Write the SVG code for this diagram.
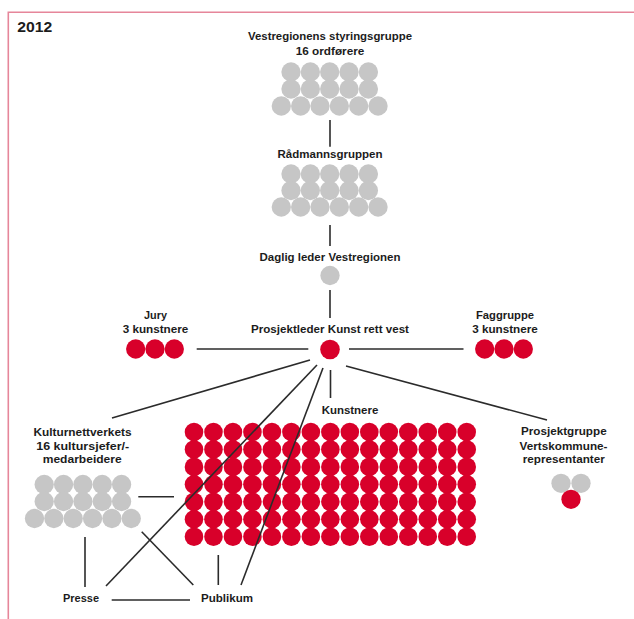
<svg xmlns="http://www.w3.org/2000/svg" xmlns:xlink="http://www.w3.org/1999/xlink" width="634" height="619" viewBox="0 0 634 619">
<style>
.t{font-family:"Liberation Sans",Arial,sans-serif;font-weight:bold;font-size:11.5px;fill:#1c1c1c;text-anchor:middle}
.g{fill:#c6c6c6}
.r{fill:#d8002a}
.c{stroke:#2b2b2b;stroke-width:1.6;fill:none}
</style>
<defs>
<g id="grow5" class="g"><circle cx="0" cy="0" r="9.65"/><circle cx="19.35" cy="0" r="9.65"/><circle cx="38.7" cy="0" r="9.65"/><circle cx="58.05" cy="0" r="9.65"/><circle cx="77.4" cy="0" r="9.65"/></g>
<g id="grow6" class="g"><circle cx="0" cy="0" r="9.65"/><circle cx="19.35" cy="0" r="9.65"/><circle cx="38.7" cy="0" r="9.65"/><circle cx="58.05" cy="0" r="9.65"/><circle cx="77.4" cy="0" r="9.65"/><circle cx="96.75" cy="0" r="9.65"/></g>
<g id="rrow15" class="r"><circle cx="0" cy="0" r="9.3"/><circle cx="19.48" cy="0" r="9.3"/><circle cx="38.96" cy="0" r="9.3"/><circle cx="58.44" cy="0" r="9.3"/><circle cx="77.92" cy="0" r="9.3"/><circle cx="97.4" cy="0" r="9.3"/><circle cx="116.88" cy="0" r="9.3"/><circle cx="136.36" cy="0" r="9.3"/><circle cx="155.84" cy="0" r="9.3"/><circle cx="175.32" cy="0" r="9.3"/><circle cx="194.8" cy="0" r="9.3"/><circle cx="214.28" cy="0" r="9.3"/><circle cx="233.76" cy="0" r="9.3"/><circle cx="253.24" cy="0" r="9.3"/><circle cx="272.72" cy="0" r="9.3"/></g>
<g id="rrow3" class="r"><circle cx="0" cy="0" r="9.65"/><circle cx="19.3" cy="0" r="9.65"/><circle cx="38.6" cy="0" r="9.65"/></g>
</defs>
<rect width="634" height="619" fill="#ffffff"/>
<path d="M8.3,619 V12.3 H634" fill="none" stroke="#e6869a" stroke-width="1.6"/>
<text x="17.3" y="31.5" font-family="Liberation Sans, Arial, sans-serif" font-weight="bold" font-size="15" fill="#1c1c1c" textLength="35" lengthAdjust="spacingAndGlyphs">2012</text>

<g id="styringsgruppe">
<text class="t" x="330" y="40" textLength="164" lengthAdjust="spacingAndGlyphs">Vestregionens styringsgruppe</text>
<text class="t" x="330" y="55" textLength="68.6" lengthAdjust="spacingAndGlyphs">16 ordførere</text>
<use xlink:href="#grow5" href="#grow5" x="291" y="72"/>
<use xlink:href="#grow5" href="#grow5" x="291" y="89"/>
<use xlink:href="#grow6" href="#grow6" x="281.3" y="106"/>
</g>

<g id="raadmannsgruppen">
<text class="t" x="330" y="157.5" textLength="105" lengthAdjust="spacingAndGlyphs">Rådmannsgruppen</text>
<use xlink:href="#grow5" href="#grow5" x="291" y="174"/>
<use xlink:href="#grow5" href="#grow5" x="291" y="190.5"/>
<use xlink:href="#grow6" href="#grow6" x="281.3" y="207"/>
</g>

<g id="dagligleder">
<text class="t" x="330" y="261" textLength="141" lengthAdjust="spacingAndGlyphs">Daglig leder Vestregionen</text>
<circle class="g" cx="330" cy="275.5" r="9.65"/>
</g>

<g id="prosjektleder">
<text class="t" x="330" y="333" textLength="158" lengthAdjust="spacingAndGlyphs">Prosjektleder Kunst rett vest</text>
<circle class="r" cx="330" cy="349.5" r="9.8"/>
</g>

<g id="jury">
<text class="t" x="155.5" y="318.5" textLength="23" lengthAdjust="spacingAndGlyphs">Jury</text>
<text class="t" x="155.5" y="333" textLength="65.7" lengthAdjust="spacingAndGlyphs">3 kunstnere</text>
<use xlink:href="#rrow3" href="#rrow3" x="135.7" y="349"/>
</g>

<g id="faggruppe">
<text class="t" x="505" y="318.5" textLength="58" lengthAdjust="spacingAndGlyphs">Faggruppe</text>
<text class="t" x="505" y="333" textLength="65.7" lengthAdjust="spacingAndGlyphs">3 kunstnere</text>
<use xlink:href="#rrow3" href="#rrow3" x="484.7" y="349"/>
</g>

<g id="kunstnere">
<text class="t" x="350" y="414" textLength="56.7" lengthAdjust="spacingAndGlyphs">Kunstnere</text>
<use xlink:href="#rrow15" href="#rrow15" x="194" y="432"/>
<use xlink:href="#rrow15" href="#rrow15" x="194" y="449.45"/>
<use xlink:href="#rrow15" href="#rrow15" x="194" y="466.9"/>
<use xlink:href="#rrow15" href="#rrow15" x="194" y="484.35"/>
<use xlink:href="#rrow15" href="#rrow15" x="194" y="501.8"/>
<use xlink:href="#rrow15" href="#rrow15" x="194" y="519.25"/>
<use xlink:href="#rrow15" href="#rrow15" x="194" y="536.7"/>
</g>

<g id="kulturnettverket">
<text class="t" x="82.5" y="436" textLength="98" lengthAdjust="spacingAndGlyphs">Kulturnettverkets</text>
<text class="t" x="82.7" y="449.5" textLength="93" lengthAdjust="spacingAndGlyphs">16 kultursjefer/-</text>
<text class="t" x="82.2" y="463.3" textLength="79" lengthAdjust="spacingAndGlyphs">medarbeidere</text>
<use xlink:href="#grow5" href="#grow5" x="44.2" y="484.5"/>
<use xlink:href="#grow5" href="#grow5" x="44.2" y="501.5"/>
<use xlink:href="#grow6" href="#grow6" x="34.5" y="518.5"/>
</g>

<g id="prosjektgruppe">
<text class="t" x="563.8" y="434.5" textLength="85.7" lengthAdjust="spacingAndGlyphs">Prosjektgruppe</text>
<text class="t" x="563.5" y="450" textLength="88" lengthAdjust="spacingAndGlyphs">Vertskommune-</text>
<text class="t" x="563.8" y="463" textLength="82" lengthAdjust="spacingAndGlyphs">representanter</text>
<circle class="g" cx="561" cy="483.3" r="9.65"/>
<circle class="g" cx="581" cy="483.3" r="9.65"/>
<circle class="r" cx="571" cy="499.3" r="9.65"/>
</g>

<g id="presse">
<text class="t" x="81" y="602.3" textLength="36" lengthAdjust="spacingAndGlyphs">Presse</text>
</g>

<g id="publikum">
<text class="t" x="227" y="602.3" textLength="52" lengthAdjust="spacingAndGlyphs">Publikum</text>
</g>

<g id="connectors" class="c">
<line x1="330" y1="120" x2="330" y2="146.7"/>
<line x1="330" y1="225" x2="330" y2="246"/>
<line x1="330" y1="290" x2="330" y2="318"/>
<line x1="196.7" y1="349" x2="308.3" y2="349"/>
<line x1="349" y1="349" x2="463.5" y2="349"/>
<line x1="310" y1="360" x2="112" y2="418"/>
<line x1="317" y1="365" x2="106" y2="586"/>
<line x1="323" y1="368" x2="241" y2="585"/>
<line x1="330.5" y1="370" x2="330.5" y2="398"/>
<line x1="346" y1="366" x2="547" y2="420"/>
<line x1="138.3" y1="496.7" x2="174" y2="496.7"/>
<line x1="85" y1="537" x2="85" y2="587"/>
<line x1="141.7" y1="531.7" x2="193.3" y2="585"/>
<line x1="218.3" y1="555" x2="218.3" y2="585"/>
<line x1="111.7" y1="600" x2="190" y2="600"/>
</g>
</svg>
